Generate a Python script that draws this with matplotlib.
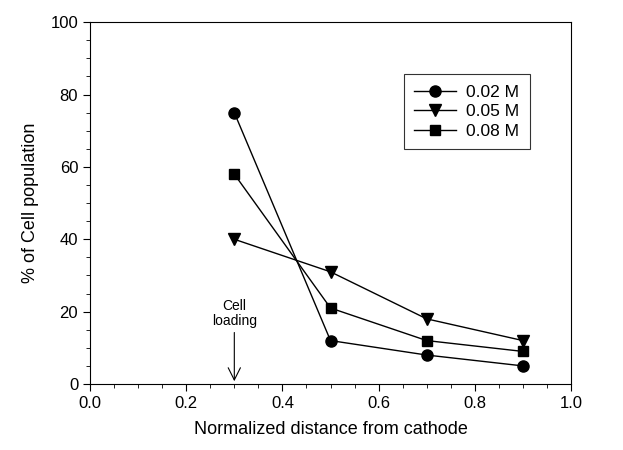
import numpy as np
import matplotlib.pyplot as plt
from matplotlib.ticker import MultipleLocator

plt.rcParams['font.family'] = ['Liberation Sans', 'DejaVu Sans']

# data
dist = [0.3, 0.5, 0.7, 0.9]
c002 = [75, 12, 8, 5]
c005 = [40, 31, 18, 12]
c008 = [58, 21, 12, 9]

fig = plt.figure(figsize=(6.23, 4.5), dpi=100)
ax = fig.add_axes([0.1445, 0.1467, 0.772, 0.804])

ax.plot(dist, c002, 'k-', marker='o', markersize=8, lw=1, label='0.02 M')
ax.plot(dist, c005, 'k-', marker='v', markersize=8, lw=1, label='0.05 M')
ax.plot(dist, c008, 'k-', marker='s', markersize=7, lw=1, label='0.08 M')

ax.set_xlim(0, 1.0)
ax.set_ylim(0, 100)
ax.xaxis.set_major_locator(MultipleLocator(0.2))
ax.xaxis.set_minor_locator(MultipleLocator(0.05))
ax.yaxis.set_major_locator(MultipleLocator(20))
ax.yaxis.set_minor_locator(MultipleLocator(5))
ax.xaxis.set_major_formatter(plt.FormatStrFormatter('%.1f'))
ax.tick_params(which='major', direction='out', length=5, width=0.8, labelsize=12)
ax.tick_params(which='minor', direction='out', length=3, width=0.6)

ax.set_xlabel('Normalized distance from cathode', fontsize=13, labelpad=7)
ax.set_ylabel('% of Cell population', fontsize=13, labelpad=8)

ax.annotate('', xy=(0.3, 0), xytext=(0.3, 15),
            arrowprops=dict(arrowstyle='->', color='k', lw=0.8,
                            mutation_scale=22))
ax.text(0.3, 19.5, 'Cell\nloading', ha='center', va='center', fontsize=10,
        linespacing=1.1)

leg = ax.legend(loc='upper left', bbox_to_anchor=(0.634, 0.88), fontsize=12.5,
                frameon=True, fancybox=False, edgecolor='k', handlelength=2.4,
                handletextpad=0.6, borderpad=0.6, labelspacing=0.25)
leg.get_frame().set_linewidth(0.8)

plt.savefig('out.png', dpi=100)
